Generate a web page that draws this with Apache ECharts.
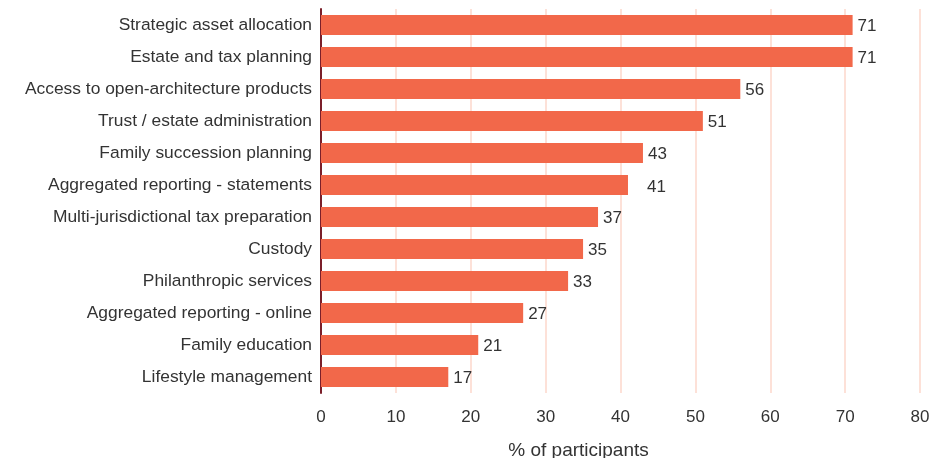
<!DOCTYPE html>
<html>
<head>
<meta charset="utf-8">
<script src="https://cdn.jsdelivr.net/npm/echarts@6/dist/echarts.min.js"></script>
<style>
  html, body { margin: 0; padding: 0; background: #ffffff; }
  #chart { width: 948px; height: 458px; }
</style>
</head>
<body>
<div id="chart"></div>
<script>
// Services offered, top to bottom
const categories = [
  'Strategic asset allocation',
  'Estate and tax planning',
  'Access to open-architecture products',
  'Trust / estate administration',
  'Family succession planning',
  'Aggregated reporting - statements',
  'Multi-jurisdictional tax preparation',
  'Custody',
  'Philanthropic services',
  'Aggregated reporting - online',
  'Family education',
  'Lifestyle management'
];
const values = [71, 71, 56, 51, 43, 41, 37, 35, 33, 27, 21, 17];
const xTicks = [0, 10, 20, 30, 40, 50, 60, 70, 80];
const axisTitle = '% of participants';

const chart = echarts.init(document.getElementById('chart'), null, { renderer: 'canvas' });

// category axis runs bottom-up, so feed it reversed
const cats = categories.slice().reverse();
const vals = values.slice().reverse();

const FONT = 'Liberation Sans, Arial, sans-serif';

chart.setOption({
  animation: false,
  backgroundColor: '#ffffff',
  grid: {
    left: 321, right: 28, top: 9, bottom: 65,
    containLabel: false,
    outerBoundsMode: 'none'
  },
  xAxis: {
    type: 'value',
    min: xTicks[0],
    max: xTicks[xTicks.length - 1],
    interval: 10,
    name: axisTitle,
    nameLocation: 'middle',
    nameGap: 48,
    nameTextStyle: {
      fontFamily: FONT,
      fontSize: 19,
      color: '#333333',
      padding: [0, 84, 0, 0]
    },
    axisLine: { show: false },
    axisTick: { show: false },
    axisLabel: {
      margin: 16,
      fontFamily: FONT,
      fontSize: 17,
      color: '#333333'
    },
    splitLine: { show: true, lineStyle: { color: '#fde1d8', width: 2 } }
  },
  yAxis: {
    type: 'category',
    data: cats,
    axisLine: { show: true, lineStyle: { color: '#7b1f2a', width: 2 } },
    axisTick: { show: false },
    axisLabel: {
      margin: 9,
      fontFamily: FONT,
      fontSize: 17.4,
      color: '#333333'
    },
    splitLine: { show: false }
  },
  series: [{
    type: 'bar',
    data: vals.map((v, i) => (
      cats[i] === 'Aggregated reporting - statements'
        ? { value: v, label: { offset: [14, 2] } }
        : v
    )),
    barWidth: 20,
    itemStyle: { color: '#f2684a' },
    label: {
      show: true,
      position: 'right',
      distance: 5,
      offset: [0, 1],
      fontFamily: FONT,
      fontSize: 17,
      color: '#333333'
    }
  }]
});
</script>
</body>
</html>
